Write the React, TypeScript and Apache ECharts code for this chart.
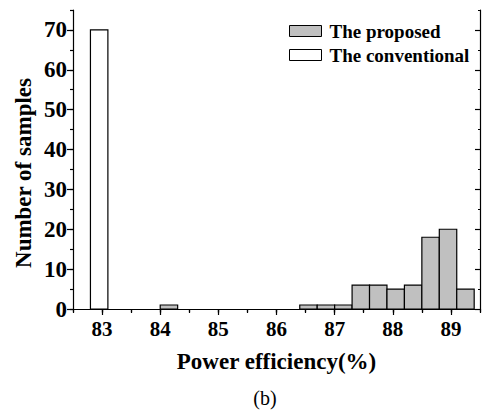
import React, { useEffect, useRef } from "react";
import * as echarts from "echarts";

const binWidth = 0.3;
const proposedStarts = [84.0, 86.4, 86.7, 87.0, 87.3, 87.6, 87.9, 88.2, 88.5, 88.8, 89.1];
const proposedCounts = [1, 1, 1, 1, 6, 6, 5, 6, 18, 20, 5];
const conventionalStarts = [82.8];
const conventionalCounts = [70];
const xMajorTicks = [83, 84, 85, 86, 87, 88, 89];
const yMajorTicks = [0, 10, 20, 30, 40, 50, 60, 70];

const FONT = "'Liberation Serif', 'Times New Roman', serif";
const X_MIN = 82.5;
const X_MAX = 89.5;
const Y_MIN = 0;
const Y_MAX = 75;

function histRender(fill: string) {
  return (params: any, api: any) => {
    const x0 = api.value(0);
    const y = api.value(1);
    const p0 = api.coord([x0, y]);
    const p1 = api.coord([x0 + binWidth, 0]);
    return {
      type: "rect",
      shape: { x: p0[0], y: p0[1], width: p1[0] - p0[0], height: p1[1] - p0[1] },
      style: { fill, stroke: "#000", lineWidth: 1.2 },
    };
  };
}

export default function App() {
  const ref = useRef<HTMLDivElement>(null);
  useEffect(() => {
    if (!ref.current) return;
    const chart = echarts.init(ref.current, undefined, { renderer: "svg" });
    const lineStyle = { color: "#000", width: 1.2 };
    const baseX = { type: "value", min: X_MIN, max: X_MAX, splitLine: { show: false } };
    const baseY = { type: "value", min: Y_MIN, max: Y_MAX, splitLine: { show: false } };
    chart.setOption({
      animation: false,
      backgroundColor: "#fff",
      grid: { left: 73, right: 1, top: 10, bottom: 105, containLabel: false },
      legend: {
        orient: "vertical",
        left: 284,
        top: 16,
        itemWidth: 32,
        itemHeight: 11,
        itemGap: 4,
        selectedMode: false,
        textStyle: { fontFamily: FONT, fontWeight: "bold", fontSize: 19, color: "#000", lineHeight: 20, padding: [0, 0, 0, 3] },
        data: [
          { name: "The proposed", icon: "rect", itemStyle: { color: "#c0c0c0", borderColor: "#000", borderWidth: 1 } },
          { name: "The conventional", icon: "rect", itemStyle: { color: "#fff", borderColor: "#000", borderWidth: 1 } },
        ],
      },
      xAxis: [
        {
          ...baseX,
          position: "bottom",
          interval: 0.5,
          axisLine: { show: true, lineStyle },
          axisTick: { show: true, inside: false, length: 3, lineStyle },
          axisLabel: {
            show: true,
            margin: 9,
            fontFamily: FONT,
            fontWeight: "bold",
            fontSize: 21,
            color: "#000",
            formatter: (v: number) => (Math.abs(v - Math.round(v)) < 1e-6 ? String(Math.round(v)) : ""),
          },
          name: "Power efficiency(%)",
          nameLocation: "middle",
          nameGap: 41,
          nameTextStyle: { fontFamily: FONT, fontWeight: "bold", fontSize: 23, color: "#000" },
        },
        {
          ...baseX,
          position: "bottom",
          axisLine: { show: false },
          axisTick: { show: true, inside: false, length: 6, lineStyle, customValues: xMajorTicks },
          axisLabel: { show: false },
        },
        {
          ...baseX,
          position: "top",
          interval: 0.5,
          axisLine: { show: true, lineStyle },
          axisTick: { show: true, inside: true, length: 4, lineStyle },
          axisLabel: { show: false },
        },
      ],
      yAxis: [
        {
          ...baseY,
          position: "left",
          interval: 5,
          axisLine: { show: true, lineStyle },
          axisTick: { show: true, inside: false, length: 3, lineStyle },
          axisLabel: {
            show: true,
            margin: 6,
            fontFamily: FONT,
            fontWeight: "bold",
            fontSize: 23,
            color: "#000",
            formatter: (v: number) => (v % 10 === 0 ? String(v) : ""),
          },
        },
        {
          ...baseY,
          position: "left",
          axisLine: { show: false },
          axisTick: { show: true, inside: false, length: 6, lineStyle, customValues: yMajorTicks },
          axisLabel: { show: false },
        },
        {
          ...baseY,
          position: "right",
          interval: 5,
          axisLine: { show: true, lineStyle },
          axisTick: { show: true, inside: true, length: 2, lineStyle },
          axisLabel: { show: false },
        },
        {
          ...baseY,
          position: "right",
          axisLine: { show: false },
          axisTick: { show: true, inside: true, length: 5, lineStyle, customValues: yMajorTicks },
          axisLabel: { show: false },
        },
      ],
      graphic: [
        {
          type: "text",
          x: 23,
          y: 173,
          rotation: Math.PI / 2,
          style: {
            text: "Number of samples",
            fontFamily: FONT,
            fontWeight: "bold",
            fontSize: 23,
            fill: "#000",
            align: "center",
            verticalAlign: "middle",
          },
        },
        {
          type: "text",
          x: 265,
          y: 398,
          style: {
            text: "(b)",
            fontFamily: FONT,
            fontSize: 20,
            fill: "#000",
            align: "center",
            verticalAlign: "middle",
          },
        },
      ],
      series: [
        {
          name: "The proposed",
          type: "custom",
          xAxisIndex: 0,
          yAxisIndex: 0,
          itemStyle: { color: "#c0c0c0", borderColor: "#000" },
          renderItem: histRender("#c0c0c0"),
          encode: { x: 0, y: 1 },
          data: proposedStarts.map((s, i) => [s, proposedCounts[i]]),
          z: 3,
        },
        {
          name: "The conventional",
          type: "custom",
          xAxisIndex: 0,
          yAxisIndex: 0,
          itemStyle: { color: "#fff", borderColor: "#000" },
          renderItem: histRender("#fff"),
          encode: { x: 0, y: 1 },
          data: conventionalStarts.map((s, i) => [s, conventionalCounts[i]]),
          z: 3,
        },
      ],
    });
    return () => chart.dispose();
  }, []);
  return (
    <div
      ref={ref}
      style={{ position: "absolute", left: 0, top: 0, width: 483, height: 414, background: "#fff" }}
    />
  );
}
